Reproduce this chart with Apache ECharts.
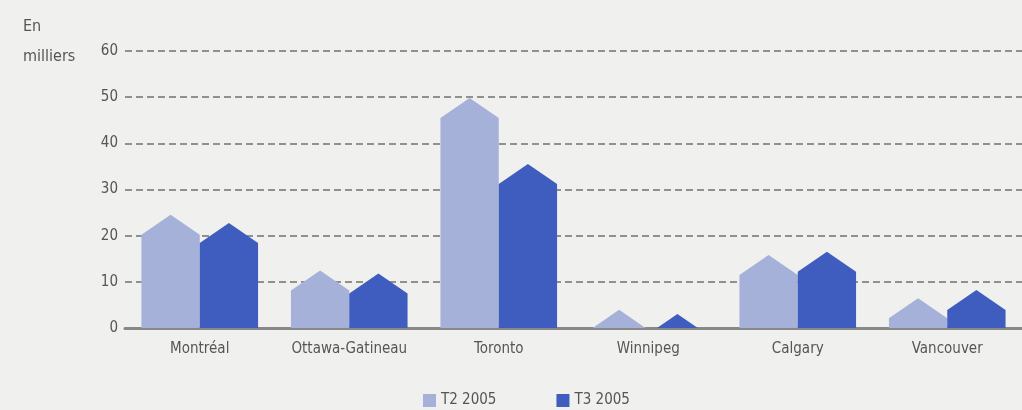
<!DOCTYPE html>
<html>
<head>
<meta charset="utf-8">
<script src="https://cdn.jsdelivr.net/npm/echarts@6/dist/echarts.min.js"></script>
<style>
html,body{margin:0;padding:0;background:#f0f0ee;}
#c{width:1022px;height:410px;}
</style>
</head>
<body>
<div id="c"></div>
<script>
const categories = ['Montréal', 'Ottawa-Gatineau', 'Toronto', 'Winnipeg', 'Calgary', 'Vancouver'];
const seriesNames = ['T2 2005', 'T3 2005'];
const t2Values = [20.2, 8.1, 45.5, -0.4, 11.5, 2.1];
const t3Values = [18.4, 7.5, 31.2, -1.3, 12.2, 3.9];
const yTicks = [0, 10, 20, 30, 40, 50, 60];
const unitLabel = 'En\nmilliers';

const FONT = "'Liberation Sans Narrow', 'DejaVu Sans Condensed', 'Roboto', sans-serif";
const colors = ['#a5b1d8', '#3f5cbf'];

function makeRender(side) {
  return function (params, api) {
    const idx = api.value(0);
    const val = api.value(1);
    const c = api.coord([idx, val]);
    const base = api.coord([idx, 0]);
    const band = api.size([1, 0])[0];
    const w = band * 0.39;
    const x0 = side < 0 ? c[0] - w : c[0];
    const x1 = x0 + w;
    const xm = (x0 + x1) / 2;
    const hw = w / 2;
    const R = 20;
    const yb = base[1];
    const ys = c[1];
    const yp = ys - R;
    let pts;
    if (ys <= yb) {
      pts = [[x0, yb], [x0, ys], [xm, yp], [x1, ys], [x1, yb]];
    } else {
      const t = (yb - yp) / R;
      if (t <= 0) return null;
      pts = [[xm - t * hw, yb], [xm, yp], [xm + t * hw, yb]];
    }
    return {
      type: 'polygon',
      shape: { points: pts },
      style: { fill: api.visual('color') }
    };
  };
}

const chart = echarts.init(document.getElementById('c'), null, { renderer: 'canvas' });
chart.setOption({
  backgroundColor: '#f0f0ee',
  animation: false,
  title: {
    text: unitLabel,
    left: 18, top: 7,
    textStyle: { fontFamily: FONT, fontSize: 16, fontWeight: 'normal', color: '#555', lineHeight: 30 }
  },
  legend: {
    data: seriesNames.map(n => ({ name: n, icon: 'rect' })),
    left: 418, top: 388,
    itemWidth: 13, itemHeight: 13, itemGap: 60,
    textStyle: { fontFamily: FONT, fontSize: 15, color: '#555' }
  },
  grid: { left: 125, top: 51, width: 907, bottom: 82, containLabel: false },
  xAxis: {
    type: 'category',
    data: categories,
    axisLine: { lineStyle: { color: '#888', width: 3 } },
    axisTick: { show: false },
    axisLabel: { fontFamily: FONT, fontSize: 15, color: '#555', margin: 14, interval: 0 }
  },
  yAxis: {
    type: 'value',
    min: yTicks[0], max: yTicks[yTicks.length - 1], interval: 10,
    axisLine: { show: false },
    axisTick: { show: false },
    axisLabel: { fontFamily: FONT, fontSize: 15, color: '#555', margin: 7 },
    splitLine: { lineStyle: { color: '#707070', width: 1.5, type: [7, 4] } }
  },
  series: [
    {
      name: seriesNames[0], type: 'custom', itemStyle: { color: colors[0] },
      renderItem: makeRender(-1),
      encode: { x: 0, y: 1 },
      data: t2Values.map((v, i) => [i, v]),
      z: 3
    },
    {
      name: seriesNames[1], type: 'custom', itemStyle: { color: colors[1] },
      renderItem: makeRender(1),
      encode: { x: 0, y: 1 },
      data: t3Values.map((v, i) => [i, v]),
      z: 3
    }
  ]
});
</script>
</body>
</html>
